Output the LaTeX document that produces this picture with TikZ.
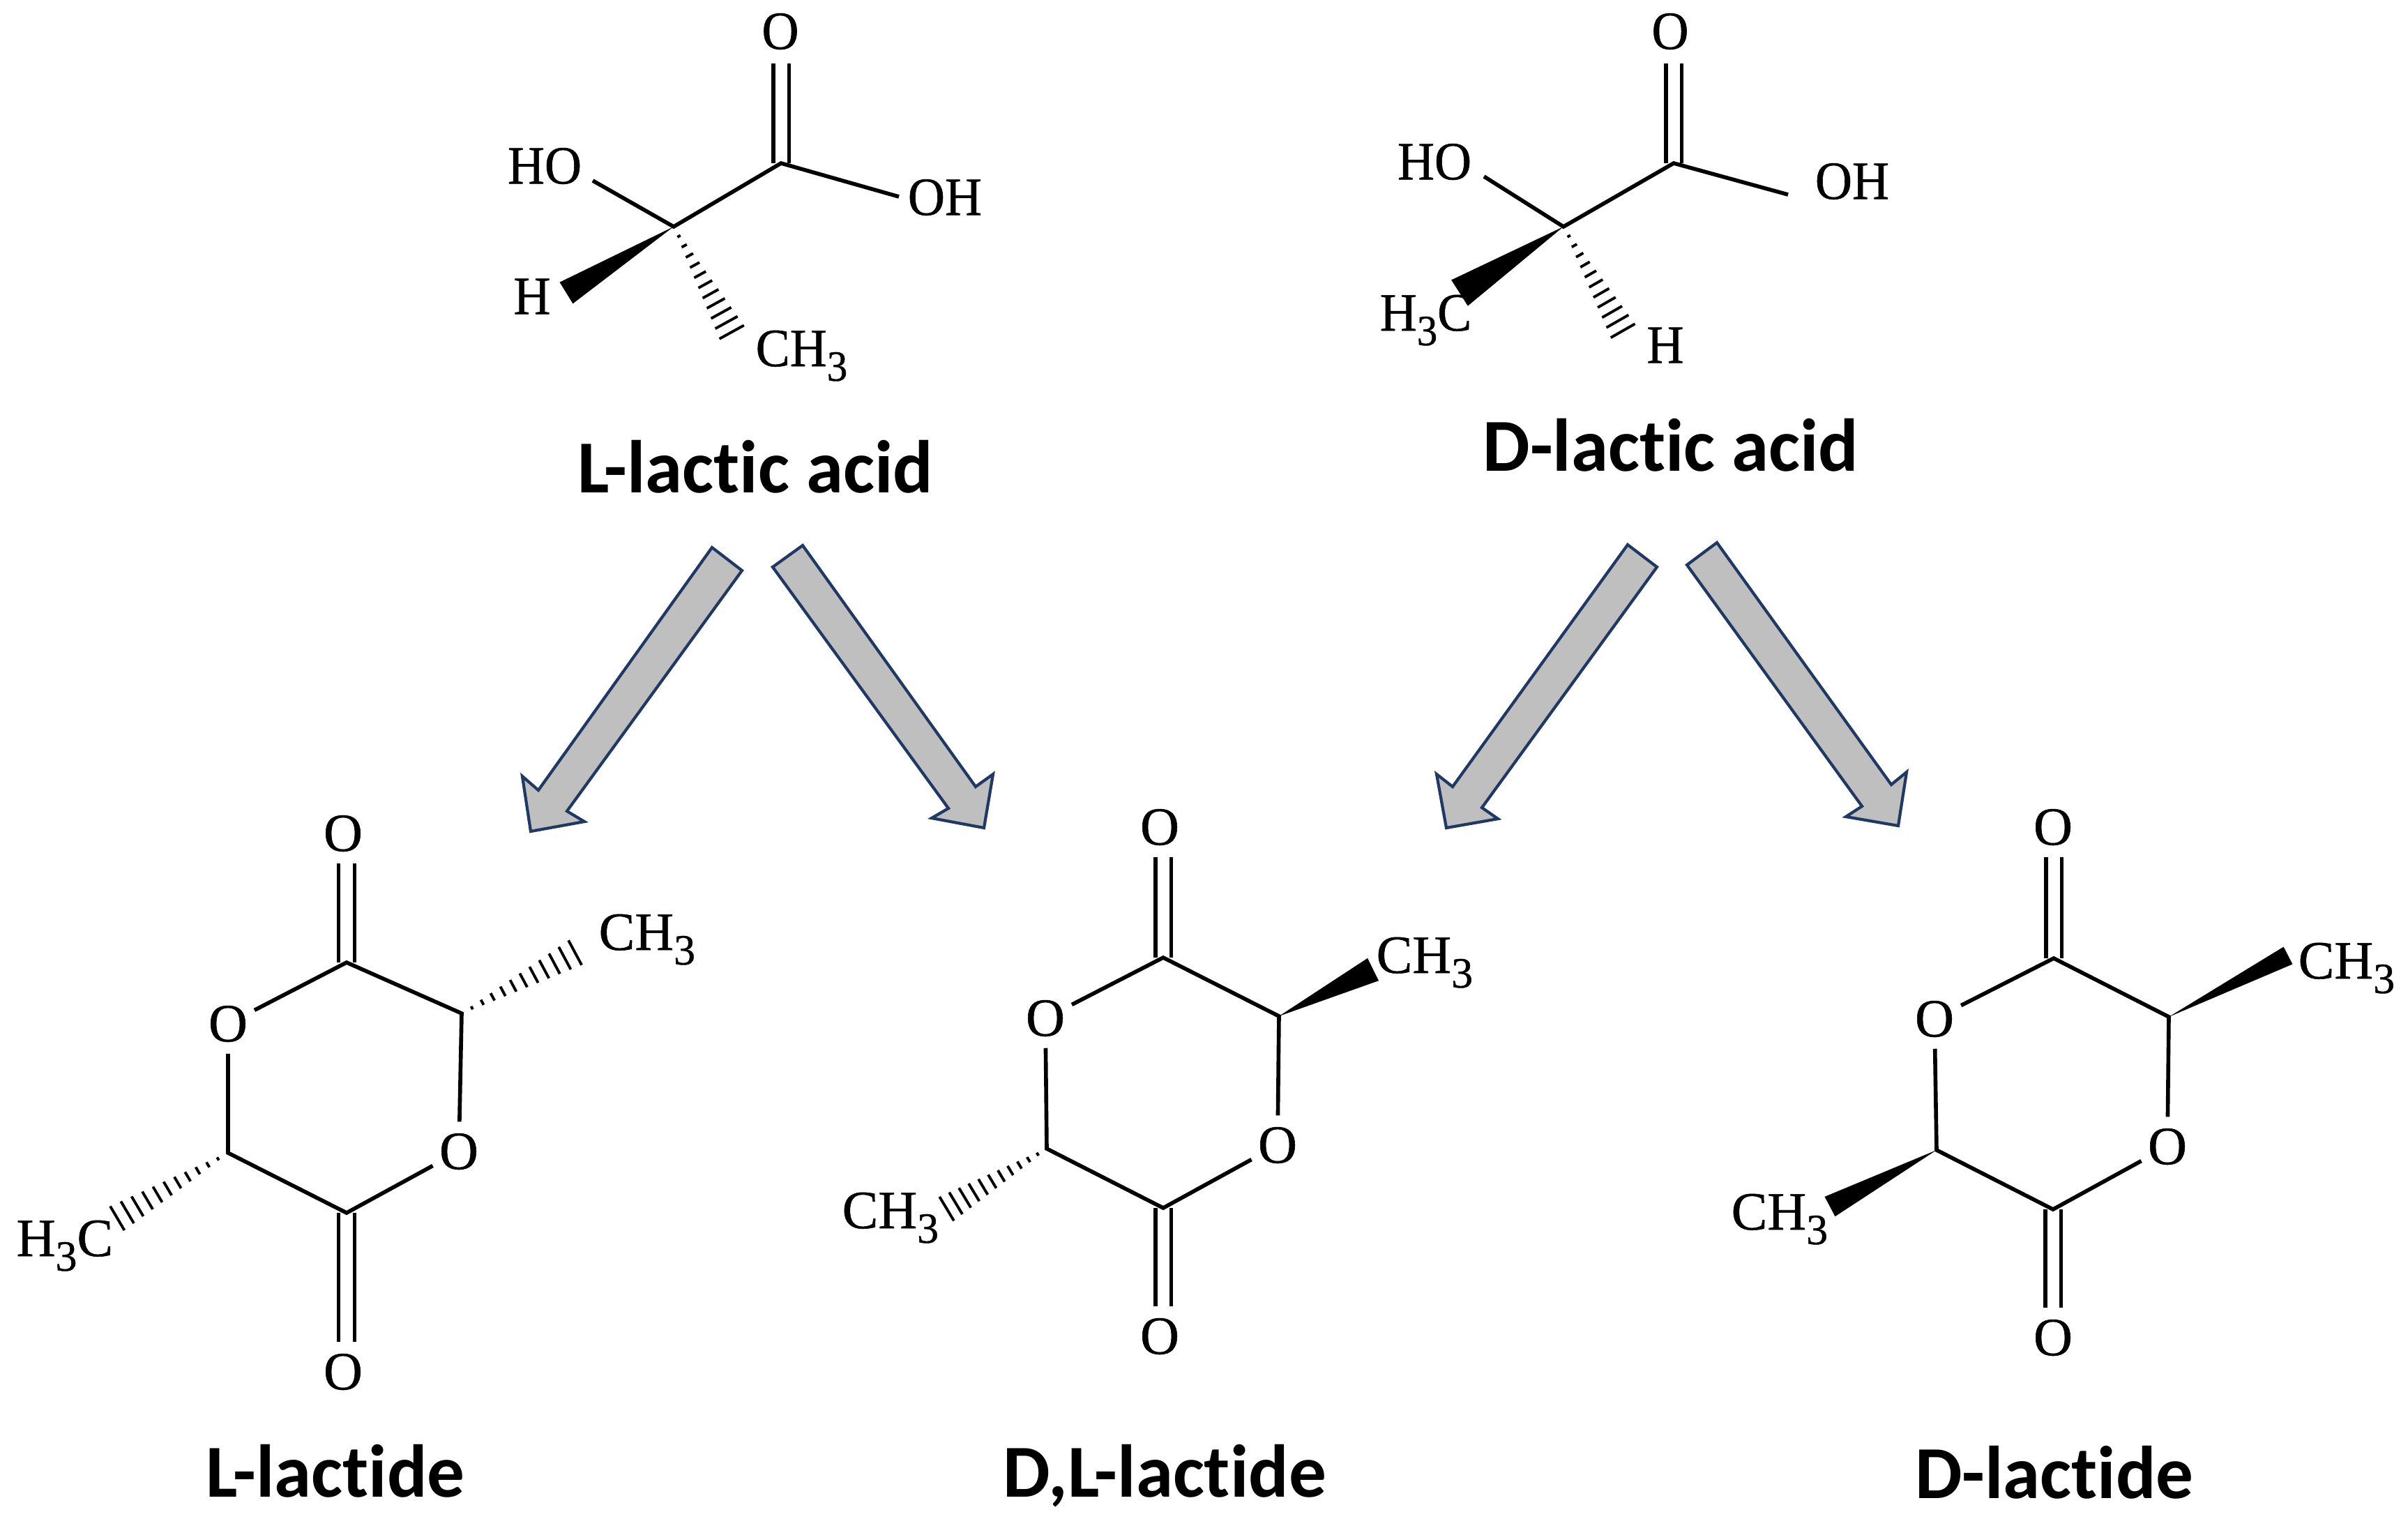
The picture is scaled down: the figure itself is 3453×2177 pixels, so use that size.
\documentclass[tikz,border=0pt]{standalone}
\usepackage{fontspec}
\setmainfont{Liberation Serif}
\newfontfamily\ringfont[FakeBold=.7]{Liberation Serif}
\newfontfamily\acidfont[FakeStretch=0.95,FakeBold=.7]{Liberation Serif}
\newfontfamily\capfont[Ligatures=NoCommon]{Carlito}
\usetikzlibrary{calc}
\definecolor{arrowfill}{HTML}{BFBFBF}
\definecolor{arrowline}{HTML}{1F3864}

\newcommand{\subthree}{\raisebox{-.27em}{\scalebox{.8}{3}}}
\newcommand{\hashbond}[2]{
    \foreach \k in {1,...,11} {
        \pgfmathsetmacro{\t}{\k/11.5}
        \pgfmathsetmacro{\w}{0.5*\k+0.2}
        \draw [hashline] ($(#1)!\t!(#2)!\w pt!90:(#2)$) -- ($(#1)!\t!(#2)!\w pt!-90:(#2)$);
    }
}
\newcommand{\wedgebond}[3]{
    \fill ($(#2)!#3!90:(#1)$) -- (#1) -- ($(#2)!#3!-90:(#1)$) -- cycle;
}

\begin{document}
\begin{tikzpicture}[x=.01cm,y=-.01cm,
        bond/.style={line width=1.6pt},
        dblbond/.style={line width=1.6pt,double,double distance=.17cm},
        hashline/.style={line width=1.1pt},
        blockarrow/.style={draw=arrowline,fill=arrowfill,line width=1.2pt,line join=miter},
        atom/.style={circle,inner sep=0pt,minimum size=.84cm,font=\ringfont\fontsize{22}{22}\selectfont},
        acidatom/.style={circle,inner sep=0pt,minimum size=.9cm,font=\acidfont\fontsize{22}{22}\selectfont},
        grouplab/.style={anchor=base west,inner sep=0pt,font=\ringfont\fontsize{22}{22}\selectfont},
        acidlab/.style={anchor=base west,inner sep=0pt,font=\acidfont\fontsize{22}{22}\selectfont},
        caption/.style={anchor=base,inner sep=0pt,font=\capfont\bfseries\fontsize{30.5}{30.5}\selectfont}]

    \useasboundingbox (0,0) rectangle (3453,2177);

    % Block arrows from the acids down to the lactides
    \foreach \a/\b/\c/\d/\e/\f/\g in {
    {1021,785}/{1064,818}/{813,1163}/{838,1178}/{761,1192}/{749,1113}/{772,1133},
    {1108,813}/{1151,782}/{1399,1128}/{1424,1110}/{1411,1187}/{1336,1173}/{1360,1159},
    {2376,813}/{2334,781}/{2083,1128}/{2060,1110}/{2074,1187}/{2148,1174}/{2125,1158},
    {2419,810}/{2462,778}/{2712,1125}/{2734,1107}/{2722,1184}/{2647,1171}/{2670,1156}} {
    \draw [blockarrow] (\a) -- (\b) -- (\c) -- (\d) -- (\e) -- (\f) -- (\g) -- cycle;
    }

    % Acid skeletons
    \foreach \nm/\x/\y in {
    lc/1120/234, lch/966/325, lhoend/850/259, lohend/1289/282, lhend/812/420, lmeend/1053/483,
    dc/2400/234, dch/2242/325, dhoend/2128/253, dohend/2564/279, dmeend/2093/420, dhend/2331/481} {
    \coordinate (\nm) at (\x,\y);
    }
    \node [acidatom] (lo) at (1119,45) {O};
    \node [acidatom] (do) at (2395,45) {O};

    \node [acidlab,anchor=center] (lho) at (781,238) {HO};
    \node [acidlab,anchor=center] (loh) at (1355,283) {OH};
    \node [acidlab,anchor=center] (lh) at (763,425) {H};
    \node [acidlab] (lme) at (1083,525) {CH\subthree};
    \node [acidlab,anchor=center] (dho) at (2057,232) {HO};
    \node [acidlab,anchor=center] (doh) at (2656,260) {OH};
    \node [acidlab,anchor=center] (dh) at (2388,495) {H};
    \node [acidlab] (dme) at (1978,474) {H\subthree C};

    \foreach \m in {l,d} {
    \draw [dblbond] (\m c) -- (\m c |- \m o.south);
    \draw [bond] (\m hoend) -- (\m ch) -- (\m c) -- (\m ohend);
    }
    \wedgebond{lch}{lhend}{.18cm}
    \hashbond{lch}{lmeend}
    \wedgebond{dch}{dmeend}{.22cm}
    \hashbond{dch}{dhend}

    % Lactide rings
    \foreach \nm/\x/\y in {
    aa/497/1380, ab/662/1453, ac/327/1653, ad/497/1739,
    ba/1668/1373, bb/1834/1457, bc/1501/1647, bd/1668/1732,
    ca/2945/1374, cb/3110/1458, cc/2777/1649, cd/2944/1734} {
    \coordinate (\nm) at (\x,\y);
    }
    \foreach \nm/\x/\y in {
    aotop/492/1195, aoleft/327/1468, aoright/658/1651, aobot/492/1967,
    botop/1663/1186, boleft/1499/1460, boright/1832/1642, bobot/1663/1916,
    cotop/2944/1186, coleft/2774/1461, coright/3108/1644, cobot/2944/1918} {
    \node [atom] (\nm) at (\x,\y) {O};
    }
    \foreach \m in {a,b,c} {
    \draw [dblbond] (\m a) -- (\m a |- \m otop.south);
    \draw [dblbond] (\m d) -- (\m d |- \m obot.north);
    \draw [bond] (\m oleft) -- (\m a) -- (\m b) -- (\m oright) -- (\m d) -- (\m c) -- (\m oleft);
    }

    % Methyl groups on the rings
    \node [grouplab] (ameright) at (858,1362) {CH\subthree};
    \node [grouplab] (ameleft) at (23,1801) {H\subthree C};
    \node [grouplab] (bmeright) at (1973,1395) {CH\subthree};
    \node [grouplab] (bmeleft) at (1207,1761) {CH\subthree};
    \node [grouplab] (cmeright) at (3295,1403) {CH\subthree};
    \node [grouplab] (cmeleft) at (2482,1763) {CH\subthree};

    \foreach \nm/\x/\y in {
    aright/832/1362, aleft/161/1751, bright/1969/1390, bleft/1351/1737,
    cright/3281/1370, cleft/2624/1730} {
    \coordinate (\nm) at (\x,\y);
    }
    \hashbond{ab}{aright}
    \hashbond{ac}{aleft}
    \wedgebond{bb}{bright}{.18cm}
    \hashbond{bc}{bleft}
    \wedgebond{cb}{cright}{.14cm}
    \wedgebond{cc}{cleft}{.16cm}

    % Names
    \node [caption] (lacid) at (1083,706) {L-lactic acid};
    \node [caption] (dacid) at (2396,675) {D-lactic acid};
    \node [caption] (llactide) at (481,2146) {L-lactide};
    \node [caption] (dllactide) at (1670,2146) {D,L-lactide};
    \node [caption] (dlactide) at (2946,2148) {D-lactide};

\end{tikzpicture}
\end{document}
